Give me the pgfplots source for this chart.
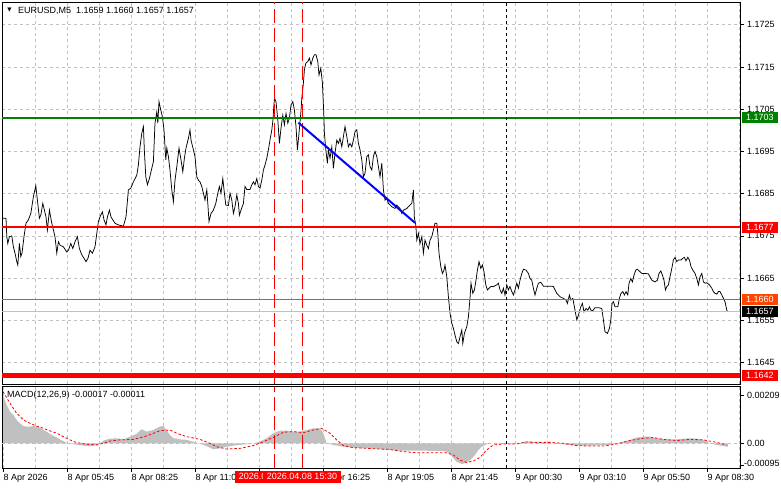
\documentclass[border=0pt]{standalone}
\usepackage{pgfplots}
\pgfplotsset{compat=1.18}
\usepackage{fontspec}
\setmainfont{Liberation Sans}
\newfontfamily\dejavu{DejaVu Sans}
\definecolor{mtgreen}{RGB}{0,128,0}
\definecolor{mtred}{RGB}{255,0,0}
\definecolor{mtorange}{RGB}{255,69,0}
\definecolor{silver}{RGB}{192,192,192}
\definecolor{gridc}{RGB}{192,192,192}
\definecolor{blueline}{RGB}{0,0,255}
\newcommand{\fs}{\fontsize{9bp}{10bp}\selectfont}
\begin{document}
\begin{tikzpicture}
\path[use as bounding box] (0,0) rectangle (781bp,489bp);
\begin{axis}[
  name=main, at={(2bp,104.5bp)}, anchor=south west,
  scale only axis, width=738bp, height=382.5bp,
  xmin=-0.5, xmax=368.5, ymin=1.16398, ymax=1.17304,
  axis line style={black, line width=0.8bp},
  xtick={16,32,...,368}, xticklabels={}, xtick style={draw=none}, xmajorgrids,
  ytick={1.1645,1.1655,1.1665,1.1675,1.1685,1.1695,1.1705,1.1715,1.1725},
  yticklabels={1.1645,1.1655,1.1665,1.1675,1.1685,1.1695,1.1705,1.1715,1.1725},
  ytick pos=right, yticklabel pos=right, tick align=outside, major tick length=3.5bp,
  ytick style={black, line width=0.6bp},
  ymajorgrids,
  grid style={gridc, dash pattern=on 3bp off 3bp, line width=0.6bp},
  yticklabel style={font=\fs},
  scaled ticks=false,
]
\addplot[black, line width=0.75bp] coordinates {
(0,1.16792)(1.5,1.16792)(1.9,1.16748)(2.4,1.16732)(3.2,1.16748)(4.4,1.16750)(5.2,1.16724)(6,1.16709)(6.9,1.16689)(7.4,1.16681)(8.2,1.16732)(8.9,1.16701)(9.5,1.16709)(10.5,1.16748)(11.5,1.16780)(12.7,1.16788)(13.9,1.16803)(15.2,1.16843)(16.4,1.16869)(17.2,1.16835)(18.2,1.16792)(18.9,1.16799)(19.9,1.16827)(20.7,1.16811)(21.5,1.16795)(22.2,1.16764)(23.2,1.16811)(24.4,1.16780)(25.2,1.16764)(26,1.16748)(26.9,1.16709)(27.7,1.16736)(28.5,1.16728)(30.2,1.16724)(31.9,1.16712)(32.7,1.16716)(33.9,1.16732)(34.9,1.16720)(36,1.16736)(37.2,1.16748)(38.2,1.16720)(39.4,1.16705)(40.5,1.16697)(41.5,1.16689)(42.5,1.16697)(43.5,1.16716)(44.7,1.16709)(46,1.16724)(46.9,1.16756)(47.7,1.16784)(48.5,1.16795)(49.7,1.16807)(50.5,1.16788)(51.5,1.16776)(52.2,1.16795)(53.2,1.16811)(54,1.16795)(54.9,1.16788)(56,1.16780)(57.7,1.16776)(60.2,1.16773)(61.5,1.16795)(62.7,1.16859)(63.9,1.16863)(65.2,1.16878)(66.9,1.16894)(67.7,1.16918)(68.5,1.16961)(69.4,1.16993)(70.2,1.17009)(70.7,1.16950)(71.4,1.16890)(72.2,1.16871)(73.2,1.16886)(74.4,1.16910)(75.2,1.16926)(76,1.17017)(76.9,1.17044)(77.4,1.17017)(78,1.17068)(78.9,1.17048)(79.7,1.17032)(80.5,1.17001)(81.4,1.16930)(81.9,1.16958)(82.7,1.16938)(83.5,1.16906)(84.4,1.16859)(85.2,1.16831)(86,1.16882)(86.9,1.16914)(88,1.16958)(89,1.16930)(89.9,1.16902)(90.7,1.16934)(91.5,1.16958)(92.7,1.16981)(93.5,1.17001)(94,1.16977)(95.2,1.16954)(96,1.16938)(96.9,1.16890)(97.7,1.16882)(98.5,1.16878)(99.4,1.16867)(100.2,1.16851)(101,1.16835)(101.9,1.16859)(102.4,1.16827)(103,1.16784)(104,1.16803)(105.2,1.16811)(106.4,1.16827)(107.4,1.16851)(108.2,1.16867)(109,1.16851)(109.9,1.16886)(110.7,1.16851)(111.4,1.16823)(112.7,1.16822)(113.5,1.16851)(114.4,1.16835)(115.2,1.16803)(116,1.16819)(116.9,1.16847)(117.7,1.16827)(118.2,1.16799)(119,1.16811)(120.2,1.16827)(121,1.16867)(121.9,1.16860)(123.5,1.16860)(124.4,1.16871)(125.2,1.16878)(126,1.16871)(126.9,1.16886)(127.7,1.16867)(128.5,1.16863)(129.4,1.16882)(130.2,1.16906)(131,1.16918)(131.9,1.16934)(132.7,1.16954)(133.5,1.16977)(134.4,1.17001)(134.9,1.17021)(135.7,1.17076)(136.5,1.17068)(137.4,1.17025)(138.2,1.16969)(139,1.17005)(139.9,1.17036)(140.7,1.17013)(141.5,1.17040)(142.4,1.17017)(143.2,1.17029)(144,1.17060)(144.9,1.17068)(145.7,1.17048)(146.5,1.17009)(147.2,1.16954)(148,1.16993)(148.9,1.17040)(149.4,1.17076)(150.2,1.17112)(150.7,1.17143)(151.4,1.17159)(152.4,1.17163)(153.2,1.17171)(154,1.17155)(154.9,1.17171)(155.7,1.17179)(156.5,1.17179)(157.4,1.17163)(158,1.17131)(158.9,1.17147)(159.7,1.17112)(160.4,1.17040)(160.7,1.16993)(161.4,1.16954)(162.2,1.16922)(162.7,1.16954)(163.5,1.16934)(164.4,1.16961)(165.2,1.16910)(166,1.16946)(166.9,1.16977)(167.7,1.16969)(168.5,1.16981)(169.4,1.16961)(170.2,1.16985)(171,1.17009)(171.9,1.16985)(172.7,1.16961)(173.5,1.16969)(174.4,1.16961)(175.2,1.16977)(176,1.16997)(176.9,1.17001)(177.7,1.16969)(178.5,1.16954)(179.4,1.16930)(180.2,1.16890)(181,1.16898)(181.9,1.16938)(182.7,1.16942)(183.5,1.16914)(184.4,1.16906)(185.2,1.16938)(186,1.16950)(186.9,1.16938)(188.5,1.16890)(189.4,1.16922)(190.2,1.16859)(191,1.16835)(191.9,1.16839)(192.7,1.16827)(194.4,1.16819)(196,1.16815)(196.9,1.16823)(198.5,1.16815)(199.4,1.16803)(200.2,1.16811)(201.9,1.16815)(203.5,1.16823)(204.4,1.16827)(205.2,1.16859)(205.7,1.16792)(206.4,1.16776)(206.9,1.16740)(207.7,1.16756)(208.5,1.16732)(209.4,1.16748)(210.2,1.16709)(211,1.16740)(211.9,1.16728)(212.7,1.16720)(213.5,1.16740)(214.4,1.16748)(215.2,1.16764)(216,1.16780)(216.9,1.16780)(217.4,1.16756)(218,1.16709)(218.9,1.16677)(219.7,1.16661)(220.5,1.16669)(221,1.16681)(221.9,1.16653)(222.7,1.16606)(223.5,1.16567)(224.4,1.16543)(225.2,1.16531)(226,1.16515)(226.9,1.16499)(227.7,1.16495)(228.5,1.16511)(229.4,1.16527)(229.9,1.16495)(230.7,1.16519)(231.9,1.16535)(232.7,1.16558)(233.5,1.16602)(234,1.16638)(234.9,1.16614)(235.7,1.16622)(236.5,1.16645)(237.2,1.16669)(238,1.16689)(238.9,1.16673)(239.7,1.16681)(240.5,1.16665)(241.4,1.16634)(242.2,1.16622)(243,1.16626)(243.9,1.16630)(245.2,1.16630)(246.9,1.16634)(247.7,1.16638)(248.5,1.16622)(249.4,1.16614)(250.2,1.16626)(251,1.16610)(251.9,1.16634)(252.7,1.16622)(253.5,1.16630)(254.4,1.16618)(255.2,1.16610)(256,1.16622)(256.9,1.16638)(257.7,1.16626)(258.5,1.16645)(259.4,1.16661)(260.2,1.16671)(261.5,1.16669)(262.7,1.16661)(263.5,1.16649)(264.4,1.16645)(265.2,1.16626)(266,1.16610)(266.9,1.16626)(267.7,1.16638)(268.9,1.16640)(270.2,1.16631)(271.9,1.16631)(274.4,1.16631)(275.2,1.16630)(276.9,1.16614)(278.5,1.16606)(280.2,1.16602)(281.5,1.16598)(282.2,1.16590)(283.2,1.16610)(283.9,1.16598)(284.9,1.16602)(286,1.16574)(286.9,1.16551)(287.7,1.16562)(288.9,1.16582)(289.7,1.16590)(290.5,1.16570)(291.5,1.16578)(292.4,1.16574)(293.2,1.16582)(294,1.16574)(294.9,1.16573)(296,1.16580)(297.7,1.16580)(299.4,1.16578)(300.2,1.16551)(301,1.16523)(302.2,1.16519)(303.2,1.16531)(303.9,1.16551)(304.5,1.16590)(305.2,1.16594)(306,1.16582)(307.4,1.16582)(308.2,1.16602)(309,1.16614)(309.9,1.16618)(310.7,1.16610)(311.5,1.16618)(312.4,1.16610)(313,1.16638)(313.9,1.16649)(314.7,1.16641)(315.5,1.16657)(316.4,1.16669)(317.2,1.16671)(318.5,1.16665)(319.4,1.16661)(321,1.16661)(322.7,1.16660)(323.5,1.16653)(324.4,1.16645)(326,1.16641)(327.2,1.16645)(328,1.16661)(328.9,1.16667)(329.7,1.16657)(330.5,1.16645)(331.2,1.16622)(331.9,1.16630)(332.7,1.16634)(333.5,1.16653)(334.4,1.16673)(335.2,1.16693)(336,1.16699)(336.9,1.16689)(337.7,1.16693)(339,1.16693)(339.9,1.16697)(340.7,1.16699)(341.5,1.16691)(342.4,1.16699)(343.2,1.16693)(344,1.16677)(344.9,1.16669)(346,1.16661)(346.9,1.16649)(347.7,1.16634)(348.5,1.16653)(349.4,1.16661)(350.2,1.16641)(351,1.16638)(351.9,1.16639)(353.2,1.16634)(354.4,1.16626)(355.2,1.16618)(356,1.16614)(356.9,1.16612)(357.7,1.16618)(358.5,1.16618)(359.4,1.16610)(360.2,1.16602)(361,1.16594)(361.9,1.16574)(362.4,1.16570)
};
\addplot[silver, line width=0.8bp] coordinates {(-0.5,1.1657) (368.5,1.1657)};
\addplot[mtorange, line width=0.8bp] coordinates {(-0.5,1.1660) (368.5,1.1660)};
\addplot[mtgreen, line width=2bp] coordinates {(-0.5,1.1703) (368.5,1.1703)};
\addplot[mtred, line width=2bp] coordinates {(-0.5,1.1677) (368.5,1.1677)};
\addplot[mtred, line width=5bp] coordinates {(-0.5,1.1642) (368.5,1.1642)};
\addplot[mtred, line width=1bp, dash pattern=on 14bp off 5bp] coordinates {(135.5,1.16398) (135.5,1.17304)};
\addplot[mtred, line width=1bp, dash pattern=on 14bp off 5bp] coordinates {(149.5,1.16398) (149.5,1.17304)};
\addplot[black, line width=0.8bp, dash pattern=on 3bp off 3bp] coordinates {(251.5,1.16398) (251.5,1.17304)};
\addplot[blueline, line width=2bp] coordinates {(147.7,1.17018) (206,1.16781)};
\coordinate (L1703) at (axis cs:368.5,1.1703);
\coordinate (L1677) at (axis cs:368.5,1.1677);
\coordinate (L1660) at (axis cs:368.5,1.1660);
\coordinate (L1657) at (axis cs:368.5,1.1657);
\coordinate (L1642) at (axis cs:368.5,1.1642);
\end{axis}
\begin{axis}[
  name=macd, at={(2bp,21bp)}, anchor=south west,
  scale only axis, width=738bp, height=81.5bp,
  xmin=-0.5, xmax=368.5, ymin=-0.001074, ymax=0.002471,
  axis line style={black, line width=0.8bp},
  xtick={0,32,...,352},
  xticklabels={8 Apr 2026,8 Apr 05:45,8 Apr 08:25,8 Apr 11:05,8 Apr 13:45,8 Apr 16:25,8 Apr 19:05,8 Apr 21:45,9 Apr 00:30,9 Apr 03:10,9 Apr 05:50,9 Apr 08:30},
  minor xtick={16,48,...,368},
  xmajorgrids, xminorgrids,
  xtick pos=bottom, ytick pos=right, yticklabel pos=right,
  tick align=outside, major tick length=3.5bp, minor tick length=0bp,
  tick style={black, line width=0.6bp},
  ytick={0,0.00209},
  yticklabels={0.00,0.00209},
  extra y ticks={-0.00095},
  extra y tick labels={-0.00095},
  extra y tick style={yticklabel style={xshift=-3bp, yshift=1.5bp}},
  grid style={gridc, dash pattern=on 3bp off 3bp, line width=0.6bp},
  yticklabel style={font=\fs},
  xticklabel style={font=\fs, anchor=north west, xshift=-3bp, yshift=0.5bp},
  scaled ticks=false,
]
\addplot[gridc, line width=0.6bp, dash pattern=on 3bp off 3bp] coordinates {(-0.5,0) (368.5,0)};
\addplot[fill=silver, draw=none] coordinates {
(0,0.00210)(1.8,0.00167)(3.5,0.00138)(5.2,0.00123)(6.8,0.00102)(8.5,0.00087)(10.2,0.00075)(11.8,0.00073)(13.5,0.00073)(15.2,0.00075)(16.8,0.00073)(18.5,0.00068)(20.2,0.00058)(21.8,0.00051)(23.5,0.00041)(25.2,0.00032)(26.8,0.00026)(28.5,0.00017)(30.2,0.00009)(31.8,0.00003)(35.2,-0.00004)(40.2,-0.00010)(43.5,-0.00012)(46.8,-0.00009)(48.5,0)(50.2,0.00012)(53.5,0.00020)(56.8,0.00022)(60.2,0.00017)(63.5,0.00029)(66.8,0.00041)(69.3,0.00061)(71.8,0.00051)(75.2,0.00058)(78.5,0.00073)(80.2,0.00075)(81.8,0.00058)(83.5,0.00036)(85.2,0.00022)(88.5,0.00017)(91.8,0.00015)(95.2,0.00007)(97.7,0)(100.2,-0.00007)(103.5,-0.00019)(105.2,-0.00026)(108.5,-0.00022)(111.8,-0.00015)(115.2,-0.00010)(118.5,-0.00007)(121.8,-0.00004)(125.2,0)(128.5,0.00007)(131.8,0.00022)(135.2,0.00044)(138.5,0.00055)(141.8,0.00055)(145.2,0.00051)(148.5,0.00051)(151.8,0.00058)(155.2,0.00065)(158.5,0.00065)(160.2,0.00044)(161.8,0)(165.2,-0.00007)(170.2,-0.00015)(175.2,-0.00019)(181.8,-0.00022)(188.5,-0.00025)(192.7,-0.00029)(198.5,-0.00032)(208.5,-0.00032)(218.5,-0.00033)(221.8,-0.00036)(223.5,-0.00046)(225.2,-0.00065)(226.8,-0.00080)(229.3,-0.00090)(231,-0.00087)(233.5,-0.00073)(236,-0.00051)(237.7,-0.00029)(239.3,-0.00015)(241.8,-0.00004)(243.5,0)(251.8,-0.00003)(258.5,-0.00001)(260.2,0.00007)(263.5,0.00007)(268.5,0.00004)(273.5,0.00003)(278.5,-0.00003)(283.5,-0.00007)(286.8,-0.00010)(293.5,-0.00010)(298.5,-0.00009)(303.5,-0.00007)(306.8,0)(310.2,0.00007)(313.5,0.00015)(316.8,0.00025)(320.2,0.00029)(323.5,0.00029)(326.8,0.00022)(331.8,0.00017)(336.8,0.00017)(340.2,0.00020)(343.5,0.00022)(346.8,0.00020)(350.2,0.00015)(353.5,0)(356.8,-0.00007)(360.2,-0.00012)(362.4,-0.00015)
} \closedcycle;
\addplot[mtred, line width=0.8bp, dash pattern=on 2.5bp off 2bp] coordinates {
(0,0.00225)(3.5,0.00174)(6.8,0.00131)(10.2,0.00102)(13.5,0.00087)(16.8,0.00075)(20.2,0.00065)(23.5,0.00054)(26.8,0.00044)(30.2,0.00029)(33.5,0.00015)(36.8,0.00003)(41.8,-0.00004)(46.8,-0.00007)(50.2,0)(53.5,0.00010)(58.5,0.00015)(65.2,0.00017)(71.8,0.00032)(78.5,0.00055)(83.5,0.00058)(86.8,0.00044)(91.8,0.00029)(98.5,0.00017)(103.5,0)(106.8,-0.00015)(111.8,-0.00025)(118.5,-0.00022)(125.2,-0.00010)(130.2,0.00007)(135.2,0.00026)(140.2,0.00048)(145.2,0.00051)(150.2,0.00046)(155.2,0.00058)(159.3,0.00065)(163.5,0.00044)(166.8,0.00015)(170.2,-0.00010)(175.2,-0.00019)(181.8,-0.00022)(188.5,-0.00025)(192.7,-0.00026)(200.2,-0.00036)(206.8,-0.00041)(213.5,-0.00041)(221.8,-0.00041)(225.2,-0.00051)(228.5,-0.00073)(231.8,-0.00083)(235.2,-0.00077)(238.5,-0.00061)(241.8,-0.00029)(245.2,-0.00007)(250.2,-0.00003)(256.8,-0.00003)(261.8,0.00006)(266.8,0.00004)(273.5,0.00004)(280.2,0)(286.8,-0.00010)(293.5,-0.00012)(300.2,-0.00012)(306.8,-0.00003)(313.5,0.00012)(320.2,0.00022)(325.2,0.00025)(330.2,0.00017)(336.8,0.00012)(343.5,0.00017)(350.2,0.00015)(356.8,0.00004)(360.2,-0.00003)(361.8,-0.00007)
};
\addplot[mtred, line width=1bp, dash pattern=on 14bp off 5bp] coordinates {(135.5,-0.001074) (135.5,0.002471)};
\addplot[mtred, line width=1bp, dash pattern=on 14bp off 5bp] coordinates {(149.5,-0.001074) (149.5,0.002471)};
\addplot[black, line width=0.8bp, dash pattern=on 3bp off 3bp] coordinates {(251.5,-0.001074) (251.5,0.002471)};
\coordinate (T1) at (axis cs:135.5,-0.001074);
\coordinate (T2) at (axis cs:149.5,-0.001074);
\end{axis}
% price boxes on the right
\tikzset{pbox/.style={anchor=west, xshift=2bp, text=white, font=\fs, inner xsep=4bp, inner ysep=0bp, minimum height=11bp}}
\node[pbox, fill=mtgreen] at (L1703) {1.1703};
\node[pbox, fill=mtred] at (L1677) {1.1677};
\node[pbox, fill=mtorange] at (L1660) {1.1660};
\node[pbox, fill=black] at (L1657) {1.1657};
\node[pbox, fill=mtred] at (L1642) {1.1642};
% time boxes
\tikzset{tbox/.style={anchor=north, yshift=-2.5bp, fill=mtred, text=white, font=\fs, inner xsep=4bp, inner ysep=0bp, minimum height=12bp}}
\node[tbox] at (T1) {2026.04.08 14:20};
\node[tbox] at (T2) {2026.04.08 15:30};
% titles
\node[anchor=center, inner sep=0, font=\dejavu\fontsize{5.5bp}{6bp}\selectfont] at (9.5bp,478.5bp) {▼};
\node[anchor=west, inner sep=0, font=\fs] at (18bp,478bp) {EURUSD,M5\ \ 1.1659 1.1660 1.1657 1.1657};
\node[anchor=west, inner sep=0, font=\fs] at (7bp,93.5bp) {MACD(12,26,9) -0.00017 -0.00011};
\end{tikzpicture}
\end{document}
